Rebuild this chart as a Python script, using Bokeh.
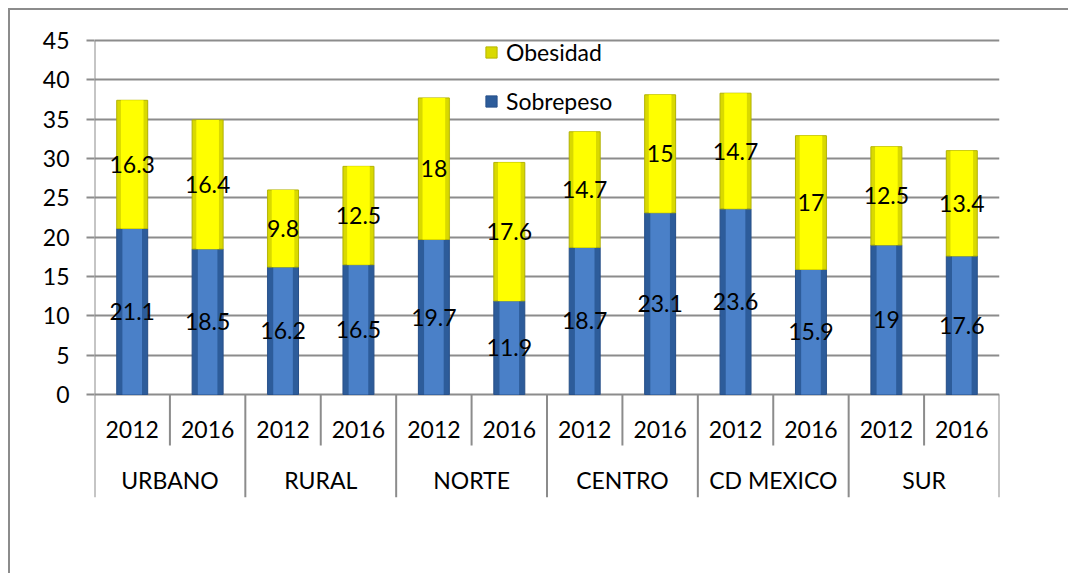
from bokeh.plotting import figure
from bokeh.models import (FactorRange, ColumnDataSource, FixedTicker, Legend, LegendItem)
from bokeh.core.properties import value
from bokeh.embed import file_html
from bokeh.resources import INLINE

regions = ["URBANO", "RURAL", "NORTE", "CENTRO", "CD MEXICO", "SUR"]
years = ["2012", "2016"]
sobrepeso = [21.1, 18.5, 16.2, 16.5, 19.7, 11.9, 18.7, 23.1, 23.6, 15.9, 19.0, 17.6]
obesidad = [16.3, 16.4, 9.8, 12.5, 18.0, 17.6, 14.7, 15.0, 14.7, 17.0, 12.5, 13.4]
y_ticks = [0, 5, 10, 15, 20, 25, 30, 35, 40, 45]

factors = [(r, y) for r in regions for y in years]

FONT = "Lato"
FS = "23px"
GRID = "#8c8c8c"

px_per_unit = 354 / 45.0
y_bottom = -(497 - 394) / px_per_unit
y_top = 45 + 20 / px_per_unit

p = figure(x_range=FactorRange(*factors, range_padding=0, group_padding=0, subgroup_padding=0, factor_padding=0),
           y_range=(y_bottom, y_top), width=1060, height=565,
           output_backend="svg", toolbar_location=None,
           min_border_left=84, min_border_right=71, min_border_top=10, min_border_bottom=78)
p.styles = {"border-left": "2px solid #8c8c8c", "border-top": "2px solid #8c8c8c",
            "margin-left": "8px", "margin-top": "8px"}
p.outline_line_color = None
p.xaxis.visible = False
p.xgrid.visible = False

p.yaxis.ticker = FixedTicker(ticks=y_ticks)
p.ygrid.ticker = FixedTicker(ticks=y_ticks)
p.ygrid.grid_line_color = GRID
p.ygrid.grid_line_width = 2
p.yaxis.axis_line_color = None
p.yaxis.major_tick_line_color = GRID
p.yaxis.major_tick_line_width = 2
p.yaxis.major_tick_out = 8
p.yaxis.major_tick_in = 0
p.yaxis.minor_tick_line_color = None
p.yaxis.major_label_standoff = 17
p.yaxis.major_label_text_font = FONT
p.yaxis.major_label_text_font_size = FS
p.yaxis.major_label_text_color = "black"

top = [a + b for a, b in zip(sobrepeso, obesidad)]
src = ColumnDataSource(dict(x=factors, s=sobrepeso, o=obesidad, top=top,
                            s_mid=[v / 2 for v in sobrepeso],
                            o_mid=[a + b / 2 for a, b in zip(sobrepeso, obesidad)],
                            s_lab=[("%g" % v) for v in sobrepeso],
                            o_lab=[("%g" % v) for v in obesidad],
                            zero=[0] * len(factors)))

# vertical value axis line (0 to 45) plus the category separators below zero
left_edge = (regions[0], years[0], -0.5)
p.segment(x0=[left_edge], x1=[left_edge], y0=[0], y1=[y_ticks[-1]], line_color=GRID, line_width=2)

# shadows
p.vbar(x="x", bottom="zero", top="top", width=0.43, source=src, fill_color="#000000",
       fill_alpha=0.07, line_color=None)
# sobrepeso: dark edge + lighter center
r_s = p.vbar(x="x", bottom="zero", top="s", width=0.41, source=src,
             fill_color="#2d5c9a", line_color="#27508a", line_width=1)
p.vbar(x="x", bottom="zero", top="s", width=0.26, source=src,
       fill_color="#4a80c8", line_color=None)
# obesidad
r_o = p.vbar(x="x", bottom="s", top="top", width=0.41, source=src,
             fill_color="#d9d900", line_color="#b5b500", line_width=1)
p.vbar(x="x", bottom="s", top="top", width=0.30, source=src,
       fill_color="#ffff00", line_color=None)

# value labels
p.text(x="x", y="s_mid", text="s_lab", source=src, text_align="center", text_baseline="middle",
       text_font=value(FONT), text_font_size=FS, text_color="black")
p.text(x="x", y="o_mid", text="o_lab", source=src, text_align="center", text_baseline="middle",
       text_font=value(FONT), text_font_size=FS, text_color="black")

# category axis labels (drawn in data space below zero)
year_y = -(429 - 394) / px_per_unit
group_y = -(479 - 394) / px_per_unit
p.text(x=factors, y=[year_y] * len(factors), text=[f[1] for f in factors],
       text_align="center", text_baseline="middle", text_font=value(FONT),
       text_font_size=FS, text_color="black")
p.text(x=[(r, years[0], 0.5) for r in regions], y=[group_y] * len(regions), text=regions,
       text_align="center", text_baseline="middle", text_font=value(FONT),
       text_font_size=FS, text_color="black")

# separators
year_sep_bottom = -(445 - 394) / px_per_unit
sx_year = [(r, years[1], -0.5) for r in regions]
p.segment(x0=sx_year, x1=sx_year, y0=[0] * len(sx_year), y1=[year_sep_bottom] * len(sx_year),
          line_color=GRID, line_width=2)
sx_group = [(r, years[0], -0.5) for r in regions] + [(regions[-1], years[1], 0.5)]
p.segment(x0=sx_group, x1=sx_group, y0=[0] * len(sx_group), y1=[y_bottom] * len(sx_group),
          line_color=GRID, line_width=2)

legend = Legend(items=[LegendItem(label="Obesidad", renderers=[r_o]),
                       LegendItem(label="Sobrepeso", renderers=[r_s])],
                location=(390, 382), orientation="vertical",
                glyph_width=14, glyph_height=14, label_height=20, spacing=21,
                padding=0, margin=0, border_line_color=None, background_fill_alpha=0,
                label_text_font=FONT, label_text_font_size=FS, label_text_color="black",
                label_standoff=8)
p.add_layout(legend, "center")

open("out.html", "w").write(file_html(p, INLINE))
